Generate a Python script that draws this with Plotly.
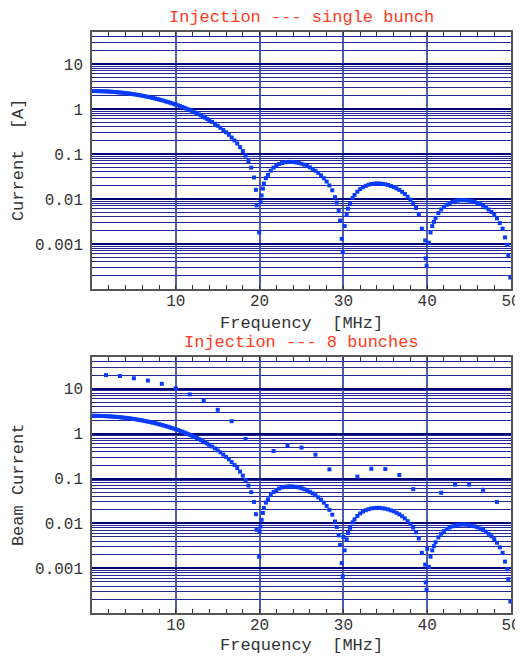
import plotly.graph_objects as go

# ---------------- data ----------------
freq_single = [
    0.0, 0.25, 0.5, 0.75, 1.0, 1.25, 1.5, 1.75, 2.0, 2.25, 2.5, 2.75, 3.0, 3.25,
    3.5, 3.75, 4.0, 4.25, 4.5, 4.75, 5.0, 5.25, 5.5, 5.75, 6.0, 6.25, 6.5, 6.75,
    7.0, 7.25, 7.5, 7.75, 8.0, 8.25, 8.5, 8.75, 9.0, 9.25, 9.5, 9.75, 10.0,
    10.25, 10.5, 10.75, 11.0, 11.25, 11.5, 11.75, 12.0, 12.25, 12.5, 12.75,
    13.0, 13.25, 13.5, 13.75, 14.0,
    14.33, 14.67, 15.0, 15.33, 15.67, 16.0, 16.33, 16.67, 17.0, 17.33, 17.67,
    18.0, 18.33, 18.67, 19.0, 19.33, 19.56, 19.64, 19.95, 20.12, 20.24, 20.39,
    20.51, 20.75, 21.0, 21.33, 21.67, 22.0, 22.33, 22.67, 23.0, 23.33, 23.67,
    24.0, 24.33, 24.67, 25.0, 25.33, 25.67, 26.0, 26.33, 26.67, 27.0, 27.33,
    27.67, 28.0, 28.33, 28.67, 29.0, 29.2, 29.44, 29.6, 29.8, 29.92, 30.15,
    30.39, 30.55, 30.8, 31.1, 31.33, 31.67, 32.0, 32.33, 32.67, 33.0, 33.33,
    33.67, 34.0, 34.33, 34.67, 35.0, 35.33, 35.67, 36.0, 36.33, 36.67, 37.0,
    37.33, 37.67, 38.0, 38.33, 38.67, 39.0, 39.36, 39.76, 39.82, 39.93, 40.2,
    40.4, 40.6, 40.8, 41.0, 41.33, 41.67, 42.0, 42.33, 42.67, 43.0, 43.33,
    43.67, 44.0, 44.33, 44.67, 45.0, 45.33, 45.67, 46.0, 46.33, 46.67, 47.0,
    47.33, 47.67, 48.0, 48.33, 48.67, 49.0, 49.28, 49.56, 49.68, 49.92,
]
current_single = [
    2.500, 2.499, 2.496, 2.491, 2.484, 2.475, 2.464, 2.451, 2.436, 2.419, 2.401,
    2.380, 2.358, 2.334, 2.309, 2.281, 2.252, 2.222, 2.190, 2.157, 2.122, 2.086,
    2.049, 2.010, 1.971, 1.930, 1.889, 1.847, 1.803, 1.759, 1.715, 1.670, 1.624,
    1.578, 1.532, 1.485, 1.438, 1.391, 1.344, 1.297, 1.250, 1.203, 1.157, 1.110,
    1.065, 1.019, 0.974, 0.930, 0.886, 0.843, 0.800, 0.759, 0.718, 0.678, 0.639,
    0.600, 0.563,
    0.516, 0.468, 0.424, 0.382, 0.341, 0.303, 0.267, 0.232, 0.200, 0.171, 0.142,
    0.116, 0.0921, 0.0696, 0.0496, 0.0300, 0.0160, 0.0072, 0.0018, 0.0085,
    0.0120, 0.0170, 0.0220, 0.0290, 0.0343, 0.0426, 0.0498, 0.0554, 0.0598,
    0.0631, 0.0652, 0.0665, 0.0667, 0.0663, 0.0650, 0.0631, 0.0606, 0.0577,
    0.0542, 0.0505, 0.0465, 0.0423, 0.0379, 0.0335, 0.0289, 0.0244, 0.0200,
    0.0156, 0.0110, 0.0083, 0.0054, 0.0033, 0.0013, 0.00066, 0.0025, 0.0044,
    0.0061, 0.0079, 0.0105, 0.0123, 0.0146, 0.0166, 0.0183, 0.0196, 0.0207,
    0.0215, 0.0219, 0.0222, 0.0221, 0.0217, 0.0212, 0.0205, 0.0195, 0.0185,
    0.0172, 0.0159, 0.0144, 0.0129, 0.0112, 0.0096, 0.0080, 0.0063, 0.0046,
    0.0022, 0.0012, 0.00048, 0.00033, 0.00107, 0.0018, 0.0025, 0.0031, 0.00379,
    0.00486, 0.00584, 0.00669, 0.00743, 0.00806, 0.00856, 0.00895, 0.00921,
    0.00937, 0.00941, 0.00935, 0.00919, 0.00893, 0.00858, 0.00816, 0.00767,
    0.00711, 0.00650, 0.00584, 0.00514, 0.00442, 0.00369, 0.00292, 0.00220,
    0.00140, 0.00095, 0.00057, 0.00018,
]

freq_8bunch = [
    1.67, 3.33, 5.0, 6.67, 8.33, 10.0, 11.67, 13.33, 15.0, 16.67, 18.33, 20.0,
    21.67, 23.33, 25.0, 26.67, 28.33, 30.0, 31.67, 33.33, 35.0, 36.67, 38.33,
    40.0, 41.67, 43.33, 45.0, 46.67, 48.33,
]
current_8bunch = [
    20.2, 19.3, 17.2, 15.3, 12.9, 10.3, 7.5, 5.4, 3.4, 1.9, 0.76, 0.0066,
    0.41, 0.54, 0.49, 0.34, 0.16, 0.005, 0.11, 0.165, 0.163, 0.12, 0.058,
    0.0027, 0.048, 0.073, 0.073, 0.056, 0.030,
]

x_tick_vals = [10, 20, 30, 40, 50]
y_tick_vals = [0.001, 0.01, 0.1, 1, 10]
y_tick_text = ["0.001", "0.01", "0.1", "1", "10"]
y_minor_mantissas = [1, 2, 3, 4, 5, 6, 7, 8, 9]
y_minor_decades = [1e-4, 1e-3, 1e-2, 1e-1, 1, 10]

titles = ["Injection --- single bunch", "Injection --- 8 bunches"]
x_title = "Frequency \u00a0[MHz]"
y_titles = ["Current \u00a0[A]", "Beam Current"]

# ---------------- styling ----------------
FONT = "Liberation Mono, Courier New, DejaVu Sans Mono, monospace"
TXT = "#333333"
RED = "#ff3b22"
BLUE = "#0a3cff"
HGRID = "rgba(0,0,130,0.85)"
VGRID = "rgba(60,75,165,0.9)"
FRAME = "#555555"

W, H = 523, 657
OFF = 8  # page body margin: figure is drawn 8 px right/down of page origin
# target page-pixel geometry of the plot areas
LEFT, RIGHT = 92, 511.5
TOP1, BOT1, TOP2, BOT2 = 32, 289, 357, 613
ML = LEFT - OFF
MT = TOP1 - OFF
MR = W - (RIGHT - OFF)
MB = H - (BOT2 - OFF)
PH = H - MT - MB
PW = W - ML - MR


def py(page_y):
    return (H - MB - (page_y - OFF)) / PH


def pxx(page_x):
    return (page_x - OFF - ML) / PW


minor_vals = [m * d for d in y_minor_decades for m in y_minor_mantissas]

fig = go.Figure()
marker = dict(symbol="square", size=4, color=BLUE, line=dict(width=0))
fig.add_trace(go.Scatter(x=freq_single, y=current_single, mode="markers",
                         marker=marker, xaxis="x", yaxis="y",
                         showlegend=False, hoverinfo="skip"))
fig.add_trace(go.Scatter(x=freq_single, y=current_single, mode="markers",
                         marker=marker, xaxis="x2", yaxis="y2",
                         showlegend=False, hoverinfo="skip"))
fig.add_trace(go.Scatter(x=freq_8bunch, y=current_8bunch, mode="markers",
                         marker=marker, xaxis="x2", yaxis="y2",
                         showlegend=False, hoverinfo="skip"))

xcommon = dict(
    range=[0, 50], tickmode="array", tickvals=x_tick_vals,
    showgrid=True, gridcolor=VGRID, gridwidth=1.5,
    ticks="inside", ticklen=4, tickcolor=TXT, tickwidth=1,
    minor=dict(tickmode="linear", tick0=0, dtick=2, ticks="inside", ticklen=4,
               tickcolor=TXT, tickwidth=1, showgrid=False),
    showline=True, linecolor=FRAME, linewidth=1.5, mirror="allticks",
    zeroline=False, automargin=False, ticklabelstandoff=-4,
    tickfont=dict(family=FONT, size=16, color=TXT),
)
ycommon = dict(
    type="log", range=[-4, 1.71], tickmode="array", tickvals=y_tick_vals,
    ticktext=y_tick_text, showgrid=True, gridcolor="rgba(0,0,120,1)", gridwidth=2,
    ticks="", minor=dict(tickmode="array", tickvals=minor_vals, showgrid=True,
                         gridcolor=HGRID, gridwidth=1, ticks=""),
    showline=True, linecolor=FRAME, linewidth=1.5, mirror=True,
    zeroline=False, automargin=False,
    tickfont=dict(family=FONT, size=16, color=TXT),
    ticklabelstandoff=4,
)

fig.update_layout(
    width=W, height=H, margin=dict(l=ML, r=MR, t=MT, b=MB, autoexpand=False),
    paper_bgcolor="white", plot_bgcolor="white",
    xaxis=dict(domain=[0, 1], anchor="y", **xcommon),
    yaxis=dict(domain=[py(BOT1), 1.0], anchor="x", **ycommon),
    xaxis2=dict(domain=[0, 1], anchor="y2", **xcommon),
    yaxis2=dict(domain=[0.0, py(TOP2)], anchor="x2", **ycommon),
    font=dict(family=FONT, size=16, color=TXT),
)

ann = []
ann.append(dict(text=titles[0], x=0.5, y=py(18), xref="paper", yref="paper",
                showarrow=False, xanchor="center", yanchor="middle",
                font=dict(family=FONT, size=17, color=RED)))
ann.append(dict(text=titles[1], x=0.5, y=py(342), xref="paper", yref="paper",
                showarrow=False, xanchor="center", yanchor="middle",
                font=dict(family=FONT, size=17, color=RED)))
for ypx in (323, 645):
    ann.append(dict(text=x_title, x=0.5, y=py(ypx), xref="paper", yref="paper",
                    showarrow=False, xanchor="center", yanchor="middle",
                    font=dict(family=FONT, size=17, color=TXT)))
for txt, ypx in zip(y_titles, (160, 485)):
    ann.append(dict(text=txt, x=pxx(18), y=py(ypx), xref="paper", yref="paper",
                    showarrow=False, xanchor="center", yanchor="middle",
                    textangle=-90, font=dict(family=FONT, size=17, color=TXT)))
fig.update_layout(annotations=ann)

fig.write_html("out.html")
